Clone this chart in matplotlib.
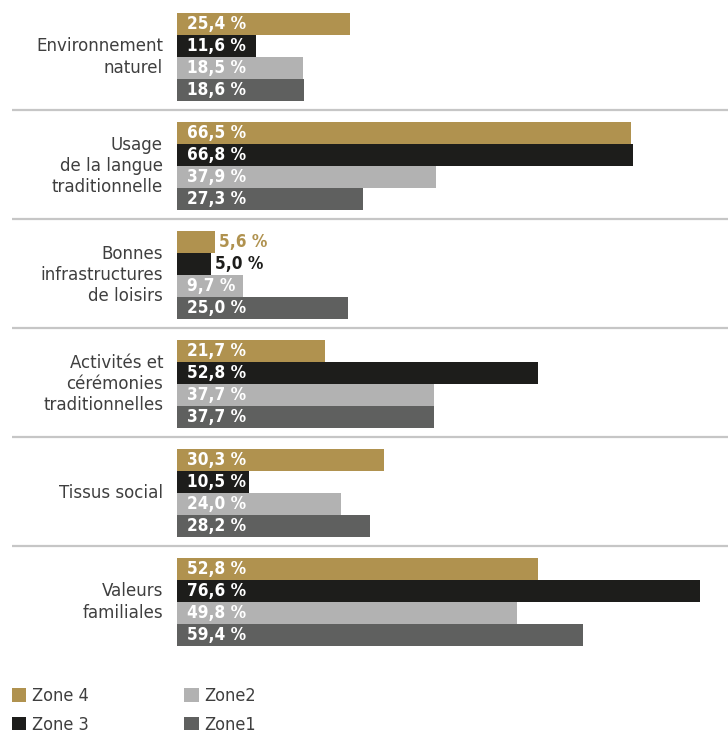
import matplotlib.pyplot as plt
from matplotlib.patches import Patch

categories = [
    "Environnement\nnaturel",
    "Usage\nde la langue\ntraditionnelle",
    "Bonnes\ninfrastructures\nde loisirs",
    "Activités et\ncérémonies\ntraditionnelles",
    "Tissus social",
    "Valeurs\nfamiliales",
]
zones = ["Zone 4", "Zone 3", "Zone2", "Zone1"]
zone4 = [25.4, 66.5, 5.6, 21.7, 30.3, 52.8]
zone3 = [11.6, 66.8, 5.0, 52.8, 10.5, 76.6]
zone2 = [18.5, 37.9, 9.7, 37.7, 24.0, 49.8]
zone1 = [18.6, 27.3, 25.0, 37.7, 28.2, 59.4]

COLORS = ["#b0924f", "#1d1d1b", "#b2b2b2", "#5f605f"]
LABEL_COLOR = "#3f3f3f"
SEP_COLOR = "#c6c6c6"

W, H = 728, 733
BAR_X0 = 177          # pixel where bars start
PX_PER_PCT = 6.83     # pixels per percentage point
GROUP_PX = 109        # vertical pixels per group
BAR_PX = 22
FIRST_CENTER_PX = 57

FONT = dict(family="DejaVu Sans", stretch="condensed")


def fmt(v):
    return f"{v:.1f}".replace(".", ",") + " %"


def main():
    fig = plt.figure(figsize=(W / 100, H / 100), dpi=100)
    ax = fig.add_axes([0, 0, 1, 1])
    ax.set_xlim(-BAR_X0 / PX_PER_PCT, (W - BAR_X0) / PX_PER_PCT)
    ax.set_ylim((H - FIRST_CENTER_PX) / GROUP_PX, -FIRST_CENTER_PX / GROUP_PX)
    ax.axis("off")

    bar_h = BAR_PX / GROUP_PX
    series = [zone4, zone3, zone2, zone1]
    pad = 10 / PX_PER_PCT

    for k, values in enumerate(series):
        offset = (k - 1.5) * bar_h
        ys = [i + offset for i in range(len(categories))]
        ax.barh(ys, values, height=bar_h, color=COLORS[k], left=0)
        for y, v in zip(ys, values):
            if v < 8:
                ax.text(v + 4 / PX_PER_PCT, y, fmt(v), color=COLORS[k],
                        fontsize=12.3, fontweight="bold", va="center",
                        ha="left", **FONT)
            else:
                ax.text(pad, y, fmt(v), color="white", fontsize=12.3,
                        fontweight="bold", va="center", ha="left", **FONT)

    for i, cat in enumerate(categories):
        ax.text(-14 / PX_PER_PCT, i, cat, color=LABEL_COLOR, fontsize=13.3,
                ha="right", va="center", multialignment="right",
                linespacing=1.22, **FONT)

    x_left = -(BAR_X0 - 12) / PX_PER_PCT
    for i in range(len(categories) - 1):
        ax.plot([x_left, ax.get_xlim()[1]], [i + 0.487, i + 0.487],
                color=SEP_COLOR, linewidth=1.6, solid_capstyle="butt")

    handles = [Patch(facecolor=c, edgecolor="none") for c in COLORS]
    fig.legend(handles, zones, ncol=2, frameon=False,
               loc="upper left", bbox_to_anchor=(12 / W, 1 - 687 / H),
               borderpad=0, borderaxespad=0,
               handlelength=0.78, handleheight=0.78, handletextpad=0.33,
               columnspacing=5.3, labelspacing=0.6,
               prop=dict(size=13, **FONT), labelcolor=LABEL_COLOR)

    fig.savefig("out.png", dpi=100)
    plt.close(fig)


if __name__ == "__main__":
    main()
